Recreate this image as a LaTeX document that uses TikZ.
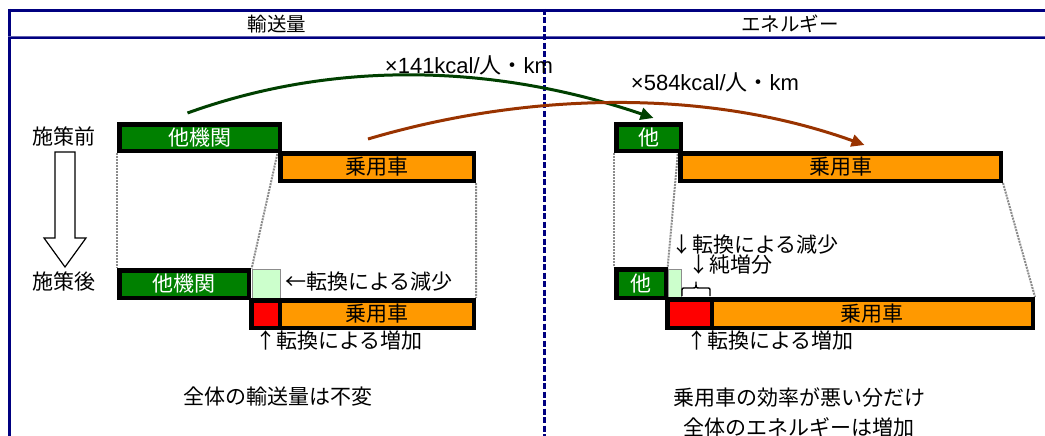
\documentclass[tikz,border=0pt]{standalone}
\usepackage{fontspec}
\setmainfont{Noto Sans CJK JP}
\newfontfamily\arialf{Liberation Sans}
\usetikzlibrary{arrows.meta}
\definecolor{navy}{HTML}{000080}
\definecolor{navylight}{HTML}{6060B0}
\definecolor{boxgreen}{HTML}{008000}
\definecolor{boxorange}{HTML}{FF9900}
\definecolor{boxred}{HTML}{FF0000}
\definecolor{boxlight}{HTML}{CCFFCC}
\definecolor{arrgreen}{HTML}{004000}
\definecolor{arrbrown}{HTML}{993300}
\definecolor{guidegray}{HTML}{8C8C8C}
\pgfdeclarelayer{background}
\pgfsetlayers{background,main}
\tikzset{
  bar/.style={draw=black, line width=4.5pt, inner sep=0pt, font=\fontsize{21}{24}\selectfont},
  greenbar/.style={bar, fill=boxgreen, text=white},
  orangebar/.style={bar, fill=boxorange, text=black},
  redbar/.style={bar, fill=boxred},
  lightbox/.style={draw=guidegray, line width=0.8pt, fill=boxlight, inner sep=0pt},
  guide/.style={draw=guidegray, line width=2pt, dash pattern=on 2pt off 1pt},
  lbl/.style={font=\fontsize{21}{24}\selectfont, inner sep=0pt},
  head/.style={font=\fontsize{19.5}{22}\selectfont, inner sep=0pt},
  flow/.style={line width=3pt, -{Triangle[length=13pt,width=12pt]}},
  bracestyle/.style={draw=black, line width=1.4pt, line join=round},
}
\begin{document}
\begin{tikzpicture}[x=1pt,y=-1pt]
\useasboundingbox (0,0) rectangle (1045,436);
% frame
\draw[navy, line width=3pt] (8,10.5) -- (1045,10.5);
\draw[navy, line width=3pt] (9.5,9) -- (9.5,436);
\draw[navylight, line width=1.2pt] (8,36.2) -- (1045,36.2);
\draw[navy, line width=2.6pt] (8,38.2) -- (1045,38.2);
\draw[navy, line width=3pt, dash pattern=on 6pt off 2.5pt] (544.5,9) -- (544.5,436);
\node[head] (h1) at (277,24) {輸送量};
\node[head] (h2) at (790,24) {エネルギー};

% left panel boxes
\node[greenbar, minimum width=160.5pt, minimum height=26.5pt] (A1) at (199.5,137.5) {他機関};
\node[orangebar, minimum width=193.5pt, minimum height=27.5pt] (B1) at (377,167) {乗用車};
\node[greenbar, minimum width=129.5pt, minimum height=27.5pt] (A2) at (184,284) {他機関};
\node[lightbox, minimum width=28pt, minimum height=29pt] (L1) at (266,283.5) {};
\node[redbar, minimum width=28.7pt, minimum height=27.5pt] (R1) at (265.6,314) {};
\node[orangebar, minimum width=193.7pt, minimum height=27.5pt] (B2) at (376.9,314) {乗用車};

% right panel boxes
\node[greenbar, minimum width=64.5pt, minimum height=26.5pt] (A3) at (648.5,137.5) {他};
\node[orangebar, minimum width=320.5pt, minimum height=27.5pt] (B3) at (840.5,167) {乗用車};
\node[greenbar, minimum width=49.5pt, minimum height=28.5pt] (A4) at (641,283.5) {他};
\node[lightbox, minimum width=13pt, minimum height=28pt] (L2) at (674.5,283) {};
\node[redbar, minimum width=44.7pt, minimum height=28.5pt] (R2) at (689.6,313.5) {};
\node[orangebar, minimum width=320.7pt, minimum height=28.5pt] (B4) at (872.4,313.5) {乗用車};

% guide lines
\begin{pgfonlayer}{background}
\draw[guide] (A1.south west) -- (A2.north west);
\draw[guide] (B1.north west) -- (L1.north west);
\draw[guide] (B1.south east) -- (B2.north east);
\draw[guide] (A3.south west) -- (A4.north west);
\draw[guide] (B3.north west) -- (L2.north west);
\draw[guide] (B3.south east) -- (B4.north east);
\end{pgfonlayer}

% row labels and down arrow
\node[lbl] (before) at (64,136) {施策前};
\node[lbl] (after) at (64,282) {施策後};
\draw[black, line width=1.2pt, fill=white] (55,152) -- (75,152) -- (75,238) -- (86,238) -- (65,267) -- (44,238) -- (55,238) -- cycle;

% left annotations
\node[lbl, anchor=west] (dec1) at (285,282) {←転換による減少};
\node[lbl, anchor=west] (inc1) at (255,340) {↑転換による増加};
\node[lbl] (sum1) at (278,397) {全体の輸送量は不変};

% right annotations
\node[lbl, anchor=west] (dec2) at (671,245) {↓転換による減少};
\node[lbl, anchor=west] (net2) at (688,265) {↓純増分};
\node[lbl, anchor=west] (inc2) at (686,340) {↑転換による増加};
\node[lbl, align=center, font=\fontsize{21}{30}\selectfont] (sum2) at (799,412) {乗用車の効率が悪い分だけ\\全体のエネルギーは増加};
\draw[bracestyle] (682,296) -- (682,291.5) .. controls (682,288) .. (685.5,288) -- (692.5,288) .. controls (696,288) .. (696,282)
  .. controls (696,288) .. (699.5,288) -- (706.5,288) .. controls (710,288) .. (710,291.5) -- (710,296);

% flow arrows
\draw[flow, arrgreen] ([shift={(-12,-9)}]A1.north) .. controls (340,58) and (500,66) .. ([shift={(5,-4)}]A3.north);
\draw[flow, arrbrown] ([shift={(-9,-12)}]B1.north) .. controls (520,94) and (700,86) .. ([shift={(24,-6)}]B3.north);
\node[lbl, font=\fontsize{22}{24}\selectfont] (c1) at (469,65) {{\arialf ×141kcal/}人・{\arialf km}};
\node[lbl, font=\fontsize{22}{24}\selectfont] (c2) at (715,82) {{\arialf ×584kcal/}人・{\arialf km}};
\end{tikzpicture}
\end{document}
